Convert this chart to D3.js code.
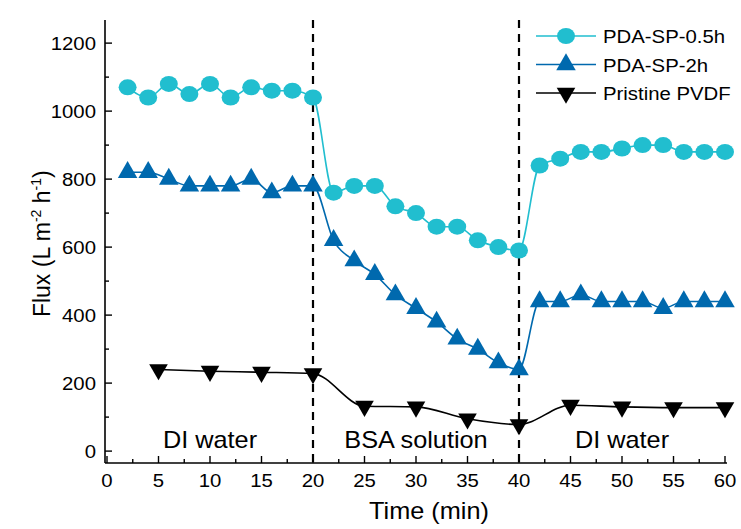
<!DOCTYPE html>
<html>
<head>
<meta charset="utf-8">
<script src="https://cdn.jsdelivr.net/npm/d3@7/dist/d3.min.js"></script>
<style>
  body { margin: 0; background: #fff; }
  text { font-family: "Liberation Sans", Arial, sans-serif; fill: #000; }
</style>
</head>
<body>
<div id="chart"></div>
<script>
// time points (min)
const timeSP = d3.range(2, 61, 2);
const timePVDF = [5, 10, 15, 20, 25, 30, 35, 40, 45, 50, 55, 60];

const flux05h = [1070, 1040, 1080, 1050, 1080, 1040, 1070, 1060, 1060, 1040,
                 760, 780, 780, 720, 700, 660, 660, 620, 600, 590,
                 840, 860, 880, 880, 890, 900, 900, 880, 880, 880];
const flux2h = [820, 820, 800, 780, 780, 780, 800, 760, 780, 780,
                620, 560, 520, 460, 420, 380, 330, 300, 260, 240,
                440, 440, 460, 440, 440, 440, 420, 440, 440, 440];
const fluxPVDF = [240, 235, 232, 228, 132, 130, 95, 78, 135, 130, 128, 128];

const xTicks = d3.range(0, 61, 5);
const yTicks = d3.range(0, 1201, 200);
const stageBreaks = [20, 40];
const stageLabels = [
  { t: 10, text: 'DI water' },
  { t: 30, text: 'BSA solution' },
  { t: 50, text: 'DI water' }
];

const seriesList = [
  { name: 'PDA-SP-0.5h', x: timeSP, y: flux05h, color: '#21BECF', marker: 'circle' },
  { name: 'PDA-SP-2h', x: timeSP, y: flux2h, color: '#0069AE', marker: 'up' },
  { name: 'Pristine PVDF', x: timePVDF, y: fluxPVDF, color: '#000000', marker: 'down' }
];

const width = 741, height = 529;
const STRETCH = 1.1; // text in the source is a little wide
const svg = d3.select('#chart').append('svg')
  .attr('width', width).attr('height', height);

const x = d3.scaleLinear().domain([0, 60]).range([107, 725]);
const y = d3.scaleLinear().domain([-35, 1268]).range([463, 20]);

const triUp = d3.symbol().type(d3.symbolTriangle).size(165);
const triDown = d3.symbol().type(d3.symbolTriangle).size(150);

function drawMarker(g, type, color, cx, cy) {
  if (type === 'circle') {
    g.append('ellipse').attr('cx', cx).attr('cy', cy)
      .attr('rx', 9).attr('ry', 8).attr('fill', color);
  } else if (type === 'up') {
    g.append('path').attr('d', triUp()).attr('fill', color)
      .attr('transform', `translate(${cx},${cy})`);
  } else {
    g.append('path').attr('d', triDown()).attr('fill', color)
      .attr('transform', `translate(${cx},${cy}) rotate(180)`);
  }
}

// wide text helper
function addText(g, tx, ty, str, size, anchor) {
  return g.append('text')
    .attr('transform', `translate(${tx},${ty}) scale(${STRETCH},1)`)
    .attr('text-anchor', anchor).attr('font-size', size)
    .text(str);
}

// stage separators
stageBreaks.forEach(t => {
  svg.append('line')
    .attr('x1', x(t)).attr('x2', x(t))
    .attr('y1', y.range()[1]).attr('y2', y.range()[0])
    .attr('stroke', '#000').attr('stroke-width', 2.2)
    .attr('stroke-dasharray', '8,6');
});

// series
const line = d3.line().curve(d3.curveMonotoneX);
seriesList.forEach(s => {
  const pts = s.x.map((t, i) => [x(t), y(s.y[i])]);
  svg.append('path').attr('d', line(pts))
    .attr('fill', 'none').attr('stroke', s.color).attr('stroke-width', 1.6);
  const g = svg.append('g');
  pts.forEach(p => drawMarker(g, s.marker, s.color, p[0], p[1]));
});

// axes
const xAxis = svg.append('g').attr('transform', `translate(0,${y.range()[0]})`);
xAxis.append('line').attr('x1', x(0) - 2).attr('x2', x(60) + 2)
  .attr('stroke', '#000').attr('stroke-width', 1.6);
d3.range(0, 60.1, 2.5).forEach(t => {
  const major = t % 5 === 0;
  xAxis.append('line').attr('x1', x(t)).attr('x2', x(t))
    .attr('y1', 0).attr('y2', major ? -7 : -4)
    .attr('stroke', '#000').attr('stroke-width', 1.4);
});
xTicks.forEach(d => addText(xAxis, x(d), 24, d, 18.5, 'middle'));

const yAxis = svg.append('g').attr('transform', `translate(${x(0) - 2},0)`);
yAxis.append('line').attr('y1', y.range()[0]).attr('y2', y.range()[1])
  .attr('stroke', '#000').attr('stroke-width', 1.6);
d3.range(0, 1201, 100).forEach(v => {
  const major = v % 200 === 0;
  yAxis.append('line').attr('x1', 0).attr('x2', major ? 7 : 4)
    .attr('y1', y(v)).attr('y2', y(v))
    .attr('stroke', '#000').attr('stroke-width', 1.4);
});
yTicks.forEach(d => addText(yAxis, -9, y(d) + 6.5, d, 18.5, 'end'));

// axis titles
addText(svg, 429, 519, 'Time (min)', 23, 'middle');

const yt = svg.append('text')
  .attr('transform', `translate(50,${y(610)}) rotate(-90)`)
  .attr('text-anchor', 'middle').attr('font-size', 23);
yt.append('tspan').text('Flux (L m');
yt.append('tspan').attr('font-size', 14).attr('dy', -9).text('-2');
yt.append('tspan').attr('dy', 9).text(' h');
yt.append('tspan').attr('font-size', 14).attr('dy', -9).text('-1');
yt.append('tspan').attr('dy', 9).text(')');

// stage labels
stageLabels.forEach(d => addText(svg, x(d.t), 448, d.text, 23, 'middle'));

// legend
const legend = svg.append('g').attr('transform', 'translate(536,36)');
seriesList.forEach((s, i) => {
  const row = legend.append('g').attr('transform', `translate(0,${i * 28.5})`);
  row.append('line').attr('x1', 0).attr('x2', 60)
    .attr('stroke', s.color).attr('stroke-width', 1.6);
  drawMarker(row, s.marker, s.color, 30, 0);
  addText(row, 67, 7, s.name, 18.5, 'start');
});
</script>
</body>
</html>
